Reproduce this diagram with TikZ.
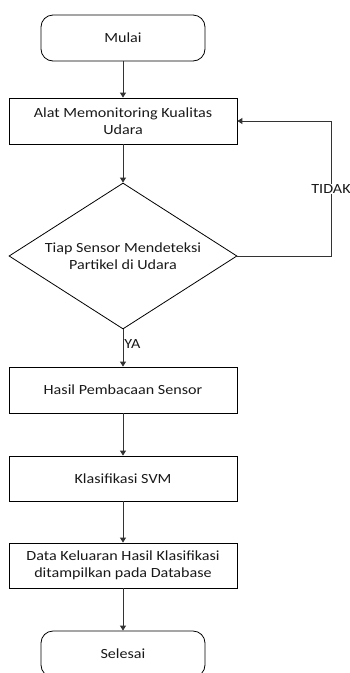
\documentclass[tikz,border=0pt]{standalone}
\usepackage{fontspec}
\setmainfont[FakeStretch=1.15]{Carlito}
\usetikzlibrary{shapes.geometric,arrows.meta}
\begin{document}
\begin{tikzpicture}[x=1pt,y=-1pt,
  every node/.style={font=\fontsize{14pt}{17pt}\selectfont, align=center, text=black!90},
  procbox/.style={draw=black, line width=0.8pt, minimum width=228pt, minimum height=46pt, inner sep=0pt},
  termbox/.style={draw=black, line width=0.8pt, rounded corners=12pt, minimum width=164pt, minimum height=46pt, inner sep=0pt},
  decbox/.style={draw=black, line width=0.8pt, diamond, aspect=1.56, minimum width=228pt, minimum height=146pt, inner sep=0pt},
  conn/.style={draw=black!80, line width=0.9pt, -{Triangle[length=5pt,width=6pt]}},
  lbl/.style={inner sep=1pt}]
\useasboundingbox (0,0) rectangle (350,673);
\clip (0,0) rectangle (350,673);
\node[termbox] (start) at (123,38) {Mulai};
\node[procbox] (alat) at (123,121) {Alat Memonitoring Kualitas\\Udara};
\node[decbox] (dec) at (123,256) {Tiap Sensor Mendeteksi\\Partikel di Udara};
\node[procbox] (hasil) at (123,390) {Hasil Pembacaan Sensor};
\node[procbox, minimum height=45pt] (klas) at (123,478.5) {Klasifikasi SVM};
\node[procbox, minimum height=45pt] (data) at (123,565.5) {Data Keluaran Hasil Klasifikasi\\ditampilkan pada Database};
\node[termbox] (stop) at (123,654) {Selesai};
\coordinate (c1) at (331,256);
\coordinate (c2) at (331,121);
\draw[conn] (start) -- (alat);
\draw[conn] (alat) -- (dec);
\draw[conn] (dec) -- node[lbl, right, pos=0.4]{YA} (hasil);
\draw[conn] (hasil) -- (klas);
\draw[conn] (klas) -- (data);
\draw[conn] (data) -- (stop);
\draw[conn] (dec.east) -- (c1) -- (c2) -- (alat.east);
\node[lbl, fill=white] (tidak) at (331,189) {TIDAK};
\end{tikzpicture}
\end{document}
